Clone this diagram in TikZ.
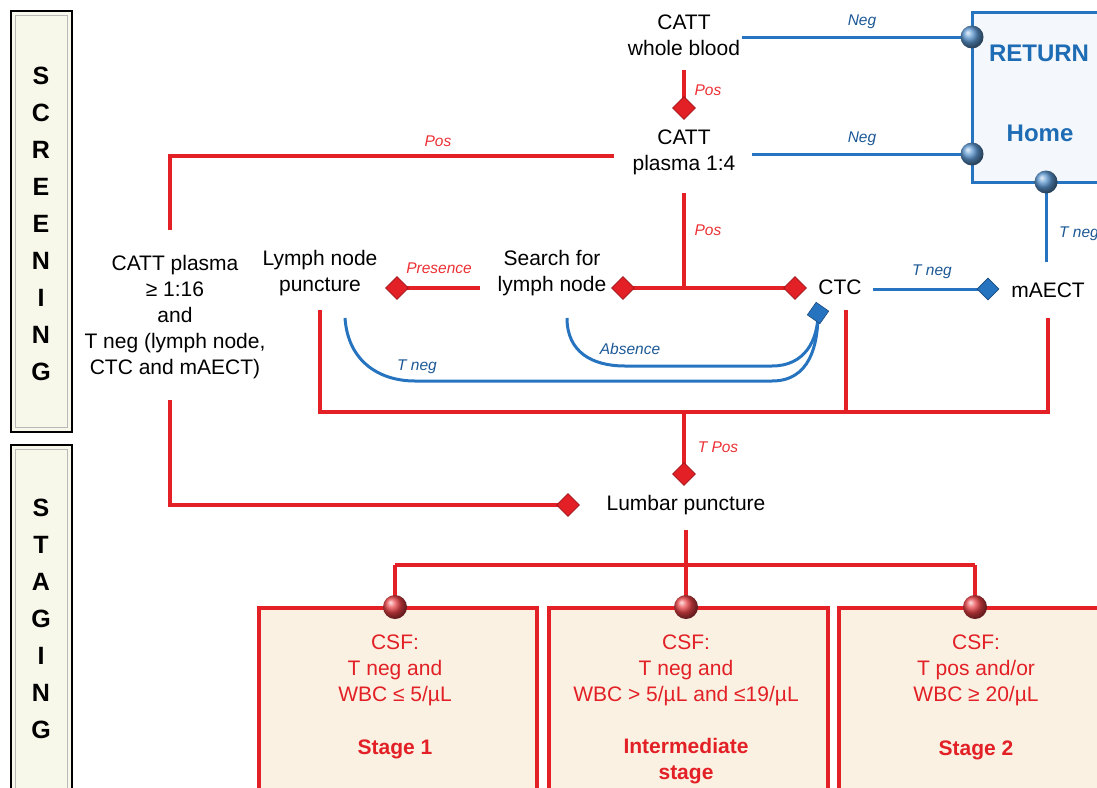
\documentclass[tikz,border=0pt]{standalone}
\usepackage{fontspec}
\setmainfont{Liberation Sans}
\usetikzlibrary{shapes.geometric}
\definecolor{lred}{RGB}{226,32,38}
\definecolor{tred}{RGB}{236,48,52}
\definecolor{lblue}{RGB}{38,116,192}
\definecolor{tblue}{RGB}{28,88,150}
\definecolor{hblue}{RGB}{30,108,180}
\definecolor{cream}{RGB}{247,247,234}
\definecolor{stagefill}{RGB}{250,241,226}
\definecolor{homefill}{RGB}{244,248,252}
\tikzset{
  txt/.style={font=\fontsize{21}{26}\selectfont, align=center, inner sep=0pt},
  stxt/.style={font=\fontsize{21}{26}\selectfont, align=center, inner sep=0pt, text=lred},
  sbold/.style={font=\fontsize{21}{26}\selectfont\bfseries, align=center, inner sep=0pt, text=lred},
  lab/.style={font=\fontsize{15.5}{18}\selectfont\itshape, inner sep=0pt},
  rlab/.style={lab, text=tred},
  blab/.style={lab, text=tblue},
  rline/.style={draw=lred, line width=3.5pt},
  bline/.style={draw=lblue, line width=3pt},
  rdia/.style={diamond, fill=lred, draw=lred!70!black, line width=0.6pt, minimum size=23pt, inner sep=0pt},
  bdia/.style={diamond, fill=lblue, draw=lblue!65!black, line width=0.6pt, minimum size=22pt, inner sep=0pt},
  bball/.style={circle, ball color=lblue!75!white, minimum size=23pt, inner sep=0pt},
  rball/.style={circle, ball color=lred!85!white, minimum size=24pt, inner sep=0pt},
  sidebar/.style={fill=cream, draw=black, line width=2pt},
  sidetxt/.style={font=\fontsize{25}{37}\selectfont\bfseries, align=center, inner sep=0pt},
  stagebox/.style={fill=stagefill, draw=lred, line width=3.5pt},
}
\begin{document}
\begin{tikzpicture}[x=1pt,y=-1pt]
\useasboundingbox (0,0) rectangle (1097,787);

% side bars
\draw[sidebar] (11,11) rectangle (72,432);
\draw[gray!55, line width=1.5pt] (15.5,15.5) rectangle (67.5,427.5);
\node[sidetxt] (scr) at (41,224) {S\\C\\R\\E\\E\\N\\I\\N\\G};
\draw[sidebar] (11,445) rectangle (72,800);
\draw[gray!55, line width=1.5pt] (15.5,449.5) rectangle (67.5,800);
\node[sidetxt] (stg) at (41,619) {S\\T\\A\\G\\I\\N\\G};

% return box
\draw[fill=homefill, draw=lblue, line width=3pt] (972,12) rectangle (1115,182);
\node[font=\fontsize{24}{28}\selectfont\bfseries, text=hblue, inner sep=0pt] (ret) at (1039,53) {RETURN};
\node[font=\fontsize{24}{28}\selectfont\bfseries, text=hblue, inner sep=0pt] (home) at (1040,133) {Home};

% stage boxes
\draw[stagebox] (259,608) rectangle (537,800);
\draw[stagebox] (549,608) rectangle (828,800);
\draw[stagebox] (839,608) rectangle (1115,800);

% text nodes
\node[txt] (wb) at (684,35) {CATT\\whole blood};
\node[txt] (p14) at (684,152) {CATT\\plasma 1:4};
\node[txt] (p16) at (175,317) {CATT plasma\\≥ 1:16\\and\\T neg (lymph node,\\CTC and mAECT)};
\node[txt] (lnp) at (320,273) {Lymph node\\puncture};
\node[txt] (sln) at (552,273) {Search for\\lymph node};
\node[txt] (ctc) at (840,287) {CTC};
\node[txt] (maect) at (1048,290) {mAECT};
\node[txt] (lp) at (686,505) {Lumbar puncture};

\node[stxt] (s1) at (395,670) {CSF:\\T neg and\\WBC ≤ 5/µL};
\node[sbold] (s1b) at (395,749) {Stage 1};
\node[stxt] (s2) at (686,670) {CSF:\\T neg and\\WBC > 5/µL and ≤19/µL};
\node[sbold] (s2b) at (686,761) {Intermediate\\stage};
\node[stxt] (s3) at (976,670) {CSF:\\T pos and/or\\WBC ≥ 20/µL};
\node[sbold] (s3b) at (976,750) {Stage 2};

% coordinates
\coordinate (wbS) at (684,70);
\coordinate (m1) at (684,108);
\coordinate (wbE) at (742,37);
\coordinate (b1) at (972,37);
\coordinate (p14E) at (752,154);
\coordinate (b2) at (972,154);
\coordinate (p14W) at (614,156);
\coordinate (c1) at (170,156);
\coordinate (p16N) at (170,230);
\coordinate (p14S) at (684,193);
\coordinate (j1) at (684,288);
\coordinate (m2) at (623,288);
\coordinate (m3) at (795,288);
\coordinate (slnW) at (480,288);
\coordinate (m4) at (397,288);
\coordinate (absS) at (567,318);
\coordinate (m5) at (818,313);
\coordinate (tnS) at (345,318);
\coordinate (ctcE) at (873,289);
\coordinate (m6) at (988,289);
\coordinate (maectN) at (1046,262);
\coordinate (b3) at (1046,182);
\coordinate (lnpS) at (320,310);
\coordinate (c2) at (320,412);
\coordinate (c3) at (1048,412);
\coordinate (maectS) at (1048,318);
\coordinate (ctcS) at (846,310);
\coordinate (c4) at (846,412);
\coordinate (j2) at (684,412);
\coordinate (m7) at (684,474);
\coordinate (p16S) at (170,400);
\coordinate (c5) at (170,505);
\coordinate (m8) at (568,505);
\coordinate (lpS) at (686,530);
\coordinate (j3) at (686,565);
\coordinate (c6) at (395,565);
\coordinate (c7) at (975,565);
\coordinate (r1) at (395,607);
\coordinate (r2) at (686,607);
\coordinate (r3) at (975,607);

% red connectors
\draw[rline] (wbS) -- (m1);
\draw[rline] (p14W) -- (c1) -- (p16N);
\draw[rline] (p14S) -- (j1);
\draw[rline] (m2) -- (m3);
\draw[rline] (slnW) -- (m4);
\draw[rline] (lnpS) -- (c2) -- (c3) -- (maectS);
\draw[rline] (ctcS) -- (c4);
\draw[rline] (j2) -- (m7);
\draw[rline] (p16S) -- (c5) -- (m8);
\draw[rline] (lpS) -- (j3);
\draw[rline] (c6) -- (c7);
\draw[rline] (c6) -- (r1);
\draw[rline] (j3) -- (r2);
\draw[rline] (c7) -- (r3);

% blue connectors
\draw[bline] (wbE) -- (b1);
\draw[bline] (p14E) -- (b2);
\draw[bline] (ctcE) -- (m6);
\draw[bline] (maectN) -- (b3);
\draw[bline] (absS) .. controls (567,352) and (592,366) .. (625,366) -- (772,366) .. controls (805,366) and (818,340) .. (m5);
\draw[bline] (tnS) .. controls (348,362) and (380,381) .. (415,381) -- (772,381) .. controls (810,381) and (818,345) .. (m5);

% markers
\node[rdia] (md1) at (m1) {};
\node[rdia] (md2) at (m2) {};
\node[rdia] (md3) at (m3) {};
\node[rdia] (md4) at (m4) {};
\node[rdia] (md7) at (m7) {};
\node[rdia] (md8) at (m8) {};
\node[bdia, rotate=10] (md5) at (m5) {};
\node[bdia] (md6) at (m6) {};
\node[bball] (bb1) at (b1) {};
\node[bball] (bb2) at (b2) {};
\node[bball] (bb3) at (b3) {};
\node[rball] (rb1) at (r1) {};
\node[rball] (rb2) at (r2) {};
\node[rball] (rb3) at (r3) {};

% labels
\node[rlab] (l1) at (708,90) {Pos};
\node[blab] (l2) at (862,22) {Neg};
\node[blab] (l3) at (862,139) {Neg};
\node[rlab] (l4) at (438,141) {Pos};
\node[rlab] (l5) at (708,230) {Pos};
\node[rlab] (l6) at (439,268) {Presence};
\node[blab] (l7) at (630,349) {Absence};
\node[blab] (l8) at (417,367) {T neg};
\node[blab] (l9) at (932,272) {T neg};
\node[blab] (l10) at (1079,234) {T neg};
\node[rlab] (l11) at (718,447) {T Pos};
\end{tikzpicture}
\end{document}
